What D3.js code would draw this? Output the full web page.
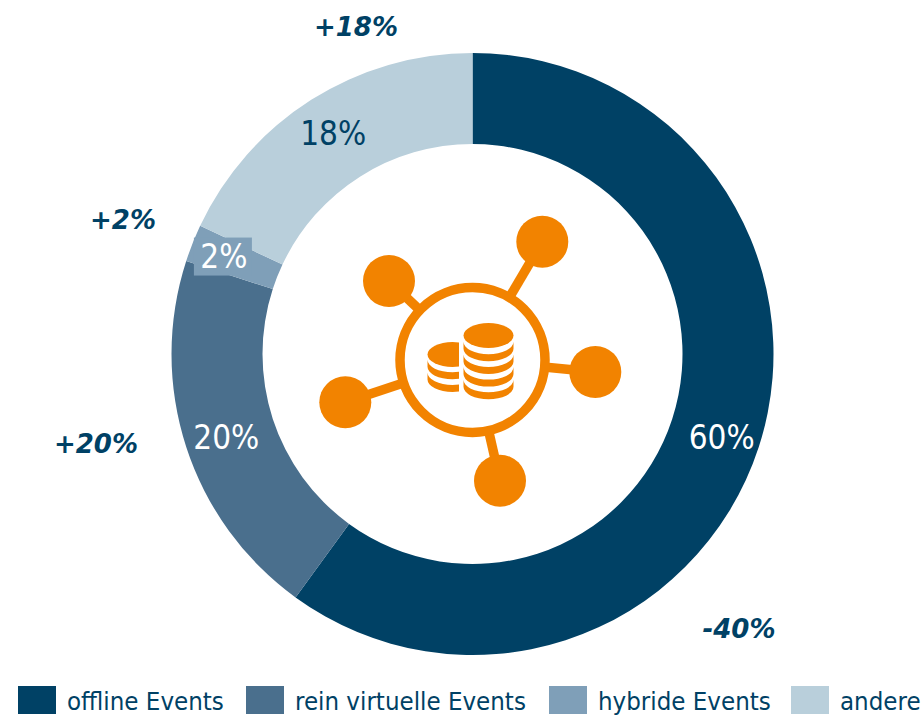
<!DOCTYPE html>
<html>
<head>
<meta charset="utf-8">
<title></title>
<script src="https://cdn.jsdelivr.net/npm/d3@7/dist/d3.min.js"></script>
<style>
	html, body { margin: 0; padding: 0; background: #fff; overflow: hidden; }
	svg { display: block; }
	text { font-family: "DejaVu Sans Condensed", "DejaVu Sans", sans-serif; font-stretch: condensed; }
	text.change { font-family: "DejaVu Sans", sans-serif; font-stretch: normal; }
</style>
</head>
<body>
<script>
	var categories = ["offline Events", "rein virtuelle Events", "hybride Events", "andere"];
	var shares = [60, 20, 2, 18];
	var changes = ["-40%", "+20%", "+2%", "+18%"];
	var colors = ["#004165", "#4a6f8d", "#7f9fb8", "#b9cfdb"];

	var w = 922, h = 716;
	var cx = 472.5, cy = 354;
	var orange = "#f28300", navy = "#004165";

	var svg = d3.select("body").append("svg").attr("width", w).attr("height", h);

	var pie = d3.pie().sort(null).value(function(d) { return d; });
	var arcs = pie(shares);
	var arc = d3.arc().innerRadius(210).outerRadius(301);
	var labelArc = d3.arc().innerRadius(262).outerRadius(262);

	// small hand nudges so the labels land where the original has them
	var labelNudge = [[0, 2], [3, 2], [-5, -1], [1, 0]];
	function labelPos(d, i) {
		var c = labelArc.centroid(d);
		return [c[0] + labelNudge[i][0], c[1] + labelNudge[i][1]];
	}

	var ring = svg.append("g").attr("transform", "translate(" + cx + "," + cy + ")");

	ring.selectAll("path")
		.data(arcs)
		.enter()
		.append("path")
		.attr("d", arc)
		.attr("fill", function(d, i) { return colors[i]; });

	// the 2% label sits on a box in the slice colour
	ring.append("rect")
		.attr("x", labelPos(arcs[2], 2)[0] - 30)
		.attr("y", labelPos(arcs[2], 2)[1] - 19)
		.attr("width", 58)
		.attr("height", 38)
		.attr("fill", colors[2]);

	ring.selectAll("text.share")
		.data(arcs)
		.enter()
		.append("text")
		.attr("class", "share")
		.attr("transform", function(d, i) { return "translate(" + labelPos(d, i) + ")"; })
		.attr("text-anchor", "middle")
		.attr("dy", "0.36em")
		.attr("font-size", 33)
		.attr("fill", function(d, i) { return i == 3 ? navy : "#fff"; })
		.text(function(d) { return d.value + "%"; });

	// change labels outside the ring
	var changePos = [[739, 629], [96, 444], [123, 220], [356, 27]];
	svg.selectAll("text.change")
		.data(changes)
		.enter()
		.append("text")
		.attr("class", "change")
		.attr("x", function(d, i) { return changePos[i][0]; })
		.attr("y", function(d, i) { return changePos[i][1]; })
		.attr("dy", "0.36em")
		.attr("text-anchor", "middle")
		.attr("font-size", 26)
		.attr("font-weight", "bold")
		.attr("font-style", "italic")
		.attr("fill", navy)
		.text(function(d) { return d; });

	// legend
	var legendX = [18, 246, 549, 791];
	var legend = svg.selectAll("g.legend")
		.data(categories)
		.enter()
		.append("g")
		.attr("class", "legend")
		.attr("transform", function(d, i) { return "translate(" + legendX[i] + ",686)"; });

	legend.append("rect")
		.attr("width", 38)
		.attr("height", 28)
		.attr("fill", function(d, i) { return colors[i]; });

	legend.append("text")
		.attr("x", 49)
		.attr("y", 24)
		.attr("font-size", 25.6)
		.attr("fill", navy)
		.text(function(d) { return d; });

	// icon in the middle
	var icon = svg.append("g").attr("transform", "translate(472.5,360)");
	var nodes = [[69.8, -118.3], [-83.5, -79], [122.8, 12], [-127.2, 42.3], [27.5, 120.7]];

	icon.selectAll("line")
		.data(nodes)
		.enter()
		.append("line")
		.attr("x1", 0)
		.attr("y1", 0)
		.attr("x2", function(d) { return d[0]; })
		.attr("y2", function(d) { return d[1]; })
		.attr("stroke", orange)
		.attr("stroke-width", 9.5);

	icon.append("circle")
		.attr("r", 72.5)
		.attr("fill", "#fff")
		.attr("stroke", orange)
		.attr("stroke-width", 9.5);

	icon.selectAll("circle.node")
		.data(nodes)
		.enter()
		.append("circle")
		.attr("class", "node")
		.attr("cx", function(d) { return d[0]; })
		.attr("cy", function(d) { return d[1]; })
		.attr("r", 26)
		.attr("fill", orange);

	function band(x, top, bottom, rx, ry) {
		return "M" + (x - rx) + "," + top +
			"A" + rx + "," + ry + " 0 0 0 " + (x + rx) + "," + top +
			"L" + (x + rx) + "," + bottom +
			"A" + rx + "," + ry + " 0 0 1 " + (x - rx) + "," + bottom + "Z";
	}

	var clip = svg.append("clipPath").attr("id", "leftStack");
	clip.append("rect").attr("x", -60).attr("y", -40).attr("width", 46.5).attr("height", 80);

	var right = icon.append("g");
	right.append("ellipse").attr("cx", 16).attr("cy", -24.5).attr("rx", 25).attr("ry", 12.5).attr("fill", orange);
	[-18.3, -5.6, 7.1, 19.8].forEach(function(t) {
		right.append("path").attr("d", band(16, t, t + 7, 25, 12.5)).attr("fill", orange);
	});

	var left = icon.append("g").attr("clip-path", "url(#leftStack)");
	left.append("ellipse").attr("cx", -20).attr("cy", -5.5).attr("rx", 25).attr("ry", 12.5).attr("fill", orange);
	[-0.2, 12.5].forEach(function(t) {
		left.append("path").attr("d", band(-20, t, t + 7, 25, 12.5)).attr("fill", orange);
	});
</script>
</body>
</html>
